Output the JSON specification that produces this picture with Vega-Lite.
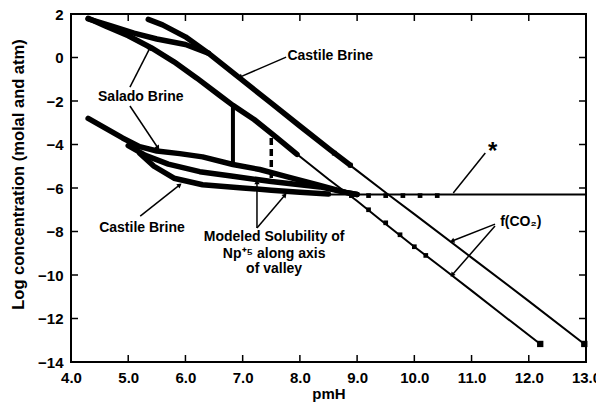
{
  "$schema": "https://vega.github.io/schema/vega-lite/v6.json",
  "width": 515,
  "height": 348,
  "autosize": {"type": "none"},
  "padding": {"left": 71, "top": 14, "right": 10, "bottom": 47},
  "config": {
    "view": {"stroke": "black", "strokeWidth": 2},
    "axis": {
      "grid": false,
      "domain": false,
      "ticks": false,
      "labelFlush": false,
      "labelFontWeight": "bold",
      "labelFontSize": 15,
      "labelColor": "black"
    }
  },
  "layer": [
    {
      "data": {"values": [
        {"s": "fS", "x": 4.3, "y": 1.8}, {"s": "fS", "x": 4.6, "y": 1.45}, {"s": "fS", "x": 5.0, "y": 1.0},
        {"s": "fS", "x": 5.4, "y": 0.45}, {"s": "fS", "x": 5.8, "y": -0.2}, {"s": "fS", "x": 6.2, "y": -0.95},
        {"s": "fS", "x": 6.6, "y": -1.75}, {"s": "fS", "x": 6.83, "y": -2.2}, {"s": "fS", "x": 7.2, "y": -2.85},
        {"s": "fS", "x": 7.6, "y": -3.7}, {"s": "fS", "x": 8.0, "y": -4.55}, {"s": "fS", "x": 8.5, "y": -5.6},
        {"s": "fS", "x": 9.0, "y": -6.6}, {"s": "fS", "x": 9.4, "y": -7.45}, {"s": "fS", "x": 10.0, "y": -8.7},
        {"s": "fS", "x": 10.5, "y": -9.7}, {"s": "fS", "x": 11.0, "y": -10.72}, {"s": "fS", "x": 11.5, "y": -11.75},
        {"s": "fS", "x": 12.2, "y": -13.17},
        {"s": "fC", "x": 5.35, "y": 1.75}, {"s": "fC", "x": 5.6, "y": 1.5}, {"s": "fC", "x": 6.0, "y": 0.95},
        {"s": "fC", "x": 6.4, "y": 0.2}, {"s": "fC", "x": 6.95, "y": -0.95}, {"s": "fC", "x": 7.5, "y": -2.1},
        {"s": "fC", "x": 8.0, "y": -3.15}, {"s": "fC", "x": 8.53, "y": -4.25}, {"s": "fC", "x": 9.0, "y": -5.2},
        {"s": "fC", "x": 9.52, "y": -6.25}, {"s": "fC", "x": 10.0, "y": -7.2}, {"s": "fC", "x": 11.0, "y": -9.2},
        {"s": "fC", "x": 12.0, "y": -11.2}, {"s": "fC", "x": 12.97, "y": -13.17},
        {"s": "hz", "x": 8.5, "y": -6.3}, {"s": "hz", "x": 13.0, "y": -6.3}
      ]},
      "mark": {"type": "line", "color": "black", "strokeWidth": 2},
      "encoding": {
        "x": {"field": "x", "type": "quantitative", "scale": {"domain": [4, 13], "nice": false, "zero": false},
          "axis": {"values": [4, 5, 6, 7, 8, 9, 10, 11, 12, 13], "labelPadding": 8, "labelFont": "Liberation Sans", "title": "pmH", "titleFont": "Liberation Sans", "titleFontWeight": "bold", "titleFontSize": 15, "titleColor": "black", "titleY": 31, "titleBaseline": "middle"}},
        "y": {"field": "y", "type": "quantitative", "scale": {"domain": [-14, 2], "nice": false, "zero": false},
          "axis": {"values": [-14, -12, -10, -8, -6, -4, -2, 0, 2], "labelPadding": 8, "labelFont": "Liberation Sans", "title": "Log concentration (molal and atm)", "titleFont": "Liberation Sans", "titleFontWeight": "bold", "titleFontSize": 16.5, "titleColor": "black", "titleX": -53, "titleY": 160, "titleBaseline": "middle"}},
        "detail": {"field": "s"}
      }
    },
    {
      "data": {"values": [
        {"x": 4, "y": -14, "x2": 13, "y2": -14},
        {"x": 4, "y": 2, "x2": 13, "y2": 2},
        {"x": 4, "y": -14, "x2": 4, "y2": 2},
        {"x": 13, "y": -14, "x2": 13, "y2": 2}
      ]},
      "mark": {"type": "rule", "color": "black", "strokeWidth": 2},
      "encoding": {
        "x": {"field": "x", "type": "quantitative"},
        "y": {"field": "y", "type": "quantitative"},
        "x2": {"field": "x2"},
        "y2": {"field": "y2"}
      }
    },
    {
      "data": {"values": [{"v": 5}, {"v": 6}, {"v": 7}, {"v": 8}, {"v": 9}, {"v": 10}, {"v": 11}, {"v": 12}]},
      "mark": {"type": "tick", "orient": "vertical", "color": "black", "size": 14, "thickness": 1.5, "opacity": 1, "clip": true},
      "encoding": {
        "x": {"field": "v", "type": "quantitative"},
        "y": {"datum": -14, "type": "quantitative"}
      }
    },
    {
      "data": {"values": [{"v": 5}, {"v": 6}, {"v": 7}, {"v": 8}, {"v": 9}, {"v": 10}, {"v": 11}, {"v": 12}]},
      "mark": {"type": "tick", "orient": "vertical", "color": "black", "size": 14, "thickness": 1.5, "opacity": 1, "clip": true},
      "encoding": {
        "x": {"field": "v", "type": "quantitative"},
        "y": {"datum": 2, "type": "quantitative"}
      }
    },
    {
      "data": {"values": [{"v": -12}, {"v": -10}, {"v": -8}, {"v": -6}, {"v": -4}, {"v": -2}, {"v": 0}]},
      "mark": {"type": "tick", "orient": "horizontal", "color": "black", "size": 14, "thickness": 1.5, "opacity": 1, "clip": true},
      "encoding": {
        "y": {"field": "v", "type": "quantitative"},
        "x": {"datum": 4, "type": "quantitative"}
      }
    },
    {
      "data": {"values": [{"v": -12}, {"v": -10}, {"v": -8}, {"v": -6}, {"v": -4}, {"v": -2}, {"v": 0}]},
      "mark": {"type": "tick", "orient": "horizontal", "color": "black", "size": 14, "thickness": 1.5, "opacity": 1, "clip": true},
      "encoding": {
        "y": {"field": "v", "type": "quantitative"},
        "x": {"datum": 13, "type": "quantitative"}
      }
    },
    {
      "data": {"values": [
        {"s": "bS", "x": 4.3, "y": 1.8}, {"s": "bS", "x": 4.6, "y": 1.45}, {"s": "bS", "x": 5.0, "y": 1.0},
        {"s": "bS", "x": 5.4, "y": 0.45}, {"s": "bS", "x": 5.8, "y": -0.2}, {"s": "bS", "x": 6.2, "y": -0.95},
        {"s": "bS", "x": 6.6, "y": -1.75}, {"s": "bS", "x": 6.83, "y": -2.2}, {"s": "bS", "x": 7.2, "y": -2.85},
        {"s": "bS", "x": 7.6, "y": -3.7}, {"s": "bS", "x": 7.95, "y": -4.45},
        {"s": "bC", "x": 5.35, "y": 1.75}, {"s": "bC", "x": 5.6, "y": 1.5}, {"s": "bC", "x": 6.0, "y": 0.95},
        {"s": "bC", "x": 6.4, "y": 0.2}, {"s": "bC", "x": 6.95, "y": -0.95}, {"s": "bC", "x": 7.5, "y": -2.1},
        {"s": "bC", "x": 8.0, "y": -3.15}, {"s": "bC", "x": 8.53, "y": -4.25}, {"s": "bC", "x": 8.88, "y": -4.95},
        {"s": "bM", "x": 4.3, "y": 1.78}, {"s": "bM", "x": 4.7, "y": 1.45}, {"s": "bM", "x": 5.1, "y": 1.12},
        {"s": "bM", "x": 5.5, "y": 0.85}, {"s": "bM", "x": 6.0, "y": 0.6}, {"s": "bM", "x": 6.4, "y": 0.2},
        {"s": "nU", "x": 4.3, "y": -2.8}, {"s": "nU", "x": 4.6, "y": -3.25}, {"s": "nU", "x": 4.9, "y": -3.7},
        {"s": "nU", "x": 5.2, "y": -4.1}, {"s": "nU", "x": 5.5, "y": -4.3}, {"s": "nU", "x": 5.9, "y": -4.42},
        {"s": "nU", "x": 6.3, "y": -4.57}, {"s": "nU", "x": 6.83, "y": -4.92}, {"s": "nU", "x": 7.3, "y": -5.15},
        {"s": "nU", "x": 7.8, "y": -5.5}, {"s": "nU", "x": 8.3, "y": -5.85}, {"s": "nU", "x": 8.8, "y": -6.2},
        {"s": "nU", "x": 9.0, "y": -6.3},
        {"s": "nM", "x": 5.0, "y": -4.05}, {"s": "nM", "x": 5.3, "y": -4.5}, {"s": "nM", "x": 5.7, "y": -4.9},
        {"s": "nM", "x": 6.25, "y": -5.25}, {"s": "nM", "x": 6.8, "y": -5.45}, {"s": "nM", "x": 7.5, "y": -5.7},
        {"s": "nM", "x": 8.35, "y": -5.95}, {"s": "nM", "x": 8.8, "y": -6.2}, {"s": "nM", "x": 9.0, "y": -6.3},
        {"s": "nL", "x": 5.2, "y": -4.4}, {"s": "nL", "x": 5.45, "y": -5.0}, {"s": "nL", "x": 5.8, "y": -5.55},
        {"s": "nL", "x": 6.3, "y": -5.85}, {"s": "nL", "x": 7.0, "y": -6.0}, {"s": "nL", "x": 7.5, "y": -6.1},
        {"s": "nL", "x": 8.0, "y": -6.2}, {"s": "nL", "x": 8.5, "y": -6.28}
      ]},
      "mark": {"type": "line", "color": "black", "strokeWidth": 5.5, "strokeCap": "round", "strokeJoin": "round"},
      "encoding": {
        "x": {"field": "x", "type": "quantitative"},
        "y": {"field": "y", "type": "quantitative"},
        "detail": {"field": "s"}
      }
    },
    {
      "data": {"values": [{"x": 6.83, "y": -2.2, "y2": -4.92}]},
      "mark": {"type": "rule", "color": "black", "strokeWidth": 4},
      "encoding": {
        "x": {"field": "x", "type": "quantitative"},
        "y": {"field": "y", "type": "quantitative"},
        "y2": {"field": "y2"}
      }
    },
    {
      "data": {"values": [{"x": 7.5, "y": -3.7, "y2": -5.7}]},
      "mark": {"type": "rule", "color": "black", "strokeWidth": 3.5, "strokeDash": [7, 4]},
      "encoding": {
        "x": {"field": "x", "type": "quantitative"},
        "y": {"field": "y", "type": "quantitative"},
        "y2": {"field": "y2"}
      }
    },
    {
      "data": {"values": [
        {"x": 9.2, "y": -7.0}, {"x": 9.5, "y": -7.6}, {"x": 9.75, "y": -8.15}, {"x": 10.0, "y": -8.7},
        {"x": 10.2, "y": -9.1}, {"x": 8.6, "y": -4.4}, {"x": 8.88, "y": -4.95},
        {"x": 8.9, "y": -6.35}, {"x": 9.2, "y": -6.35}, {"x": 9.5, "y": -6.35}, {"x": 9.8, "y": -6.35},
        {"x": 10.1, "y": -6.35}, {"x": 10.4, "y": -6.35}
      ]},
      "mark": {"type": "point", "shape": "square", "filled": true, "color": "black", "size": 22, "opacity": 1},
      "encoding": {
        "x": {"field": "x", "type": "quantitative"},
        "y": {"field": "y", "type": "quantitative"}
      }
    },
    {
      "data": {"values": [{"x": 12.2, "y": -13.17}, {"x": 12.97, "y": -13.17}]},
      "mark": {"type": "point", "shape": "square", "filled": true, "color": "black", "size": 40, "opacity": 1},
      "encoding": {
        "x": {"field": "x", "type": "quantitative"},
        "y": {"field": "y", "type": "quantitative"}
      }
    },
    {
      "data": {"values": [
        {"x": 7.76, "y": 0.02, "x2": 6.95, "y2": -0.9},
        {"x": 5.03, "y": -1.36, "x2": 5.38, "y2": 0.44},
        {"x": 5.03, "y": -2.23, "x2": 5.52, "y2": -4.16},
        {"x": 5.21, "y": -7.29, "x2": 5.9, "y2": -5.86},
        {"x": 7.25, "y": -7.84, "x2": 7.25, "y2": -5.72},
        {"x": 7.25, "y": -7.84, "x2": 7.74, "y2": -6.32},
        {"x": 11.41, "y": -7.66, "x2": 10.66, "y2": -8.44},
        {"x": 11.41, "y": -7.75, "x2": 10.66, "y2": -10.0},
        {"x": 11.24, "y": -4.39, "x2": 10.68, "y2": -6.23}
      ]},
      "mark": {"type": "rule", "color": "black", "strokeWidth": 1.5},
      "encoding": {
        "x": {"field": "x", "type": "quantitative"},
        "y": {"field": "y", "type": "quantitative"},
        "x2": {"field": "x2"},
        "y2": {"field": "y2"}
      }
    },
    {
      "data": {"values": [
        {"x": 7.76, "y": 0.02, "x2": 6.95, "y2": -0.9},
        {"x": 5.03, "y": -1.36, "x2": 5.38, "y2": 0.44},
        {"x": 5.03, "y": -2.23, "x2": 5.52, "y2": -4.16},
        {"x": 5.21, "y": -7.29, "x2": 5.9, "y2": -5.86},
        {"x": 7.25, "y": -7.84, "x2": 7.25, "y2": -5.72},
        {"x": 7.25, "y": -7.84, "x2": 7.74, "y2": -6.32},
        {"x": 11.41, "y": -7.66, "x2": 10.66, "y2": -8.44},
        {"x": 11.41, "y": -7.75, "x2": 10.66, "y2": -10.0}
      ]},
      "transform": [
        {"calculate": "atan2((datum.x2 - datum.x) * 57.22, (datum.y2 - datum.y) * 21.75) * 180 / PI", "as": "ang"}
      ],
      "mark": {"type": "point", "shape": "triangle-up", "filled": true, "color": "black", "size": 28, "opacity": 1},
      "encoding": {
        "x": {"field": "x2", "type": "quantitative"},
        "y": {"field": "y2", "type": "quantitative"},
        "angle": {"field": "ang", "type": "quantitative", "scale": null}
      }
    },
    {
      "data": {"values": [
        {"t": "Castile Brine", "x": 8.53, "y": 0.07},
        {"t": "Salado Brine", "x": 5.22, "y": -1.82},
        {"t": "Castile Brine", "x": 5.24, "y": -7.84},
        {"t": "Modeled Solubility of", "x": 7.55, "y": -8.25},
        {"t": "Np⁺⁵ along axis", "x": 7.55, "y": -9.05},
        {"t": "of valley", "x": 7.55, "y": -9.72},
        {"t": "f(CO₂)", "x": 11.86, "y": -7.56}
      ]},
      "mark": {"type": "text", "font": "Liberation Sans", "fontWeight": "bold", "fontSize": 14, "color": "black", "align": "center", "baseline": "middle"},
      "encoding": {
        "x": {"field": "x", "type": "quantitative"},
        "y": {"field": "y", "type": "quantitative"},
        "text": {"field": "t"}
      }
    },
    {
      "data": {"values": [{"t": "*", "x": 11.37, "y": -4.11}]},
      "mark": {"type": "text", "font": "Liberation Sans", "fontWeight": "bold", "fontSize": 24, "color": "black", "align": "center", "baseline": "middle", "dy": 5},
      "encoding": {
        "x": {"field": "x", "type": "quantitative"},
        "y": {"field": "y", "type": "quantitative"},
        "text": {"field": "t"}
      }
    }
  ]
}
